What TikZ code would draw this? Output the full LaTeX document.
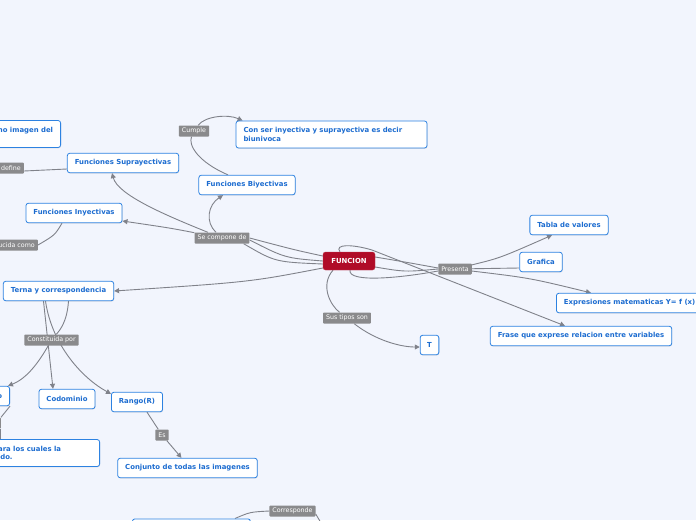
\documentclass[tikz,border=0pt]{standalone}
\usepackage{fontspec}
\setmainfont{DejaVu Sans}
\usetikzlibrary{arrows.meta,shadows,backgrounds}
\definecolor{MapBg}{RGB}{242,245,253}
\definecolor{TopicBlue}{RGB}{28,108,208}
\definecolor{TopicLine}{RGB}{45,130,225}
\definecolor{RootRed}{RGB}{176,12,40}
\definecolor{LabelGray}{RGB}{138,138,140}
\definecolor{LinkGray}{RGB}{128,130,138}
\newcommand{\topicfont}{\fontsize{6.9}{8.8}\selectfont\bfseries}
\newcommand{\labelfont}{\fontsize{6.3}{7}\selectfont}

\begin{document}
\begin{tikzpicture}[x=1pt,y=-1pt,
	topic/.style={draw=TopicLine,line width=0.8pt,rounded corners=2.5pt,fill=white,text=TopicBlue,font=\topicfont,inner xsep=7.5pt,minimum height=19.5pt,drop shadow={shadow xshift=0.5pt,shadow yshift=-0.8pt,opacity=0.2}},
	root/.style={draw=RootRed!80!white,fill=RootRed,text=white,rounded corners=2.5pt,font=\topicfont,minimum width=52pt,minimum height=18pt},
	lbl/.style={fill=LabelGray,text=white,font=\labelfont,inner xsep=3pt,inner ysep=1.5pt,minimum height=11pt,rounded corners=0.8pt},
	link/.style={draw=LinkGray,line width=0.9pt},
	arr/.style={link,-{Triangle[length=5pt,width=5pt]}}]
\useasboundingbox (0,0) rectangle (696,520);
\node[root] (funcion) at (349,261) {FUNCION};
% Presenta
\node[lbl] (presenta) at (455,269) {Presenta};
\node[topic] (tabla) at (569,225) {Tabla de valores};
\node[topic] (grafica) at (541,262) {Grafica};
\node[topic,anchor=west] (expr) at (556,303) {Expresiones matematicas Y= f (x)};
\node[topic] (frase) at (581,336) {Frase que exprese relacion entre variables};
% Sus tipos son
\node[lbl] (tipos) at (347,318) {Sus tipos son};
\node[topic,inner xsep=7pt] (tipoT) at (429.5,345) {T};
% Se compone de
\node[lbl] (compone) at (222,238) {Se compone de};
\node[topic] (biyec) at (247,185) {Funciones Biyectivas};
\node[lbl] (cumple) at (194,131) {Cumple};
\node[topic,align=left,text width=176pt,minimum height=27pt] (biuni) at (331.5,134.5) {Con ser inyectiva y suprayectiva es decir\\ biunivoca};
\node[topic] (supra) at (123,163) {Funciones Suprayectivas};
\node[lbl,anchor=east] (define) at (24,168) {Se define};
\node[topic,align=left,minimum height=27pt,anchor=east] (imagen) at (61,134) {Cuando todo elemento del codominio es tomado como imagen del\\ dominio};
\node[topic] (inyec) at (74,213) {Funciones Inyectivas};
\node[lbl,anchor=east] (ucida) at (38,245) {Deducida como};
% Terna
\node[topic] (terna) at (58.5,291) {Terna y correspondencia};
\node[lbl] (constit) at (51.5,340) {Constituida por};
\node[topic,anchor=east] (dominio) at (10,396) {Dominio};
\node[lbl,anchor=east] (domlbl) at (1,423) {Es};
\node[topic,align=left,minimum height=27pt,anchor=east] (valores) at (100,453) {Los valores de x para los cuales la\hspace*{31pt}\\ funcion esta definido.};
\node[topic] (codom) at (67,399) {Codominio};
\node[topic] (rango) at (137,402) {Rango(R)};
\node[lbl] (es) at (162,435) {Es};
\node[topic] (conj) at (187.5,468) {Conjunto de todas las imagenes};
\node[lbl] (corresp) at (292.5,511) {Corresponde};
\node[topic,anchor=north west,minimum width=118pt] (regla) at (132,518.5) {};
\coordinate (salida) at (324,528);

\begin{pgfonlayer}{background}
\fill[MapBg] (0,0) rectangle (696,520);
% FUNCION -> Se compone de
\draw[link] ([yshift=5pt]funcion.west) .. controls (295,250) .. (compone.east);
\draw[link] (funcion.west) .. controls (285,258) .. ([yshift=-2pt]compone.east);
\draw[link] ([yshift=-3pt]funcion.west) .. controls (275,262) .. ([xshift=-6pt]compone.south east);
\draw[arr] (compone) .. controls (165,215) and (118,195) .. ([xshift=-11pt]supra.south);
\draw[arr] (compone) .. controls (170,228) .. ([yshift=-8pt]inyec.east);
\draw[arr] (compone) .. controls (205,222) and (208,205) .. ([xshift=-24pt]biyec.south);
\draw[arr] ([xshift=-19pt]biyec.north) .. controls (198,162) and (188,145) .. (cumple) .. controls (205,116) and (228,114) .. ([xshift=7pt]biuni.north west);
\draw[link] ([yshift=-6pt]supra.west) -- ([yshift=-3pt]define.east);
\draw[link] ([xshift=-12pt]inyec.south) .. controls (55,235) .. (ucida.east);
% FUNCION -> Terna
\draw[arr] ([yshift=-7pt]funcion.west) .. controls (250,282) .. (terna.east);
\draw[link] ([xshift=10pt]terna.south) .. controls (67,322) and (60,330) .. (constit);
\draw[arr] (constit) .. controls (40,360) and (28,378) .. ([xshift=-2pt]dominio.north east);
\draw[arr] ([xshift=-15pt]terna.south) -- ([xshift=-14pt]codom.north);
\draw[arr] ([xshift=-13pt]terna.south) .. controls (52,345) and (82,378) .. ([yshift=-2pt]rango.north west);
\draw[link] (dominio.south east) -- (domlbl.north east);
\draw[link] ([xshift=-1pt]domlbl.south east) -- ([xshift=-1pt]domlbl.south east |- valores.north);
\draw[arr] ([xshift=10pt]rango.south) -- (es) -- ([xshift=-6pt]conj.north);
\draw[link] ([xshift=103pt]regla.north west) .. controls (250,512) .. (corresp.west);
\draw[link] ([yshift=-3pt]corresp.east) -- (salida);
% FUNCION -> Presenta
\draw[link] ([yshift=4pt]funcion.east) .. controls (405,262) .. ([yshift=1pt]presenta.west);
\draw[link] ([yshift=-6pt]funcion.east) .. controls (405,272) .. (presenta.west);
\draw[link] ([xshift=1pt]funcion.south) .. controls (348,283) and (400,278) .. ([yshift=-2pt]presenta.west);
\draw[arr] (presenta) .. controls (500,258) .. ([xshift=-17pt]tabla.south);
\draw[link] (presenta) -- ([yshift=-6pt]grafica.west);
\draw[arr] (presenta) .. controls (530,278) .. ([xshift=35pt]expr.north west);
\draw[arr] ([xshift=-9pt]funcion.north) .. controls (334,244) and (352,244) .. (372,250) -- ([xshift=-16pt]frase.north);
% FUNCION -> Sus tipos son
\draw[arr] ([xshift=-16pt]funcion.south) .. controls (320,285) and (330,305) .. (tipos) .. controls (375,340) and (400,347) .. ([yshift=-2pt]tipoT.west);
\end{pgfonlayer}
\end{tikzpicture}
\end{document}
